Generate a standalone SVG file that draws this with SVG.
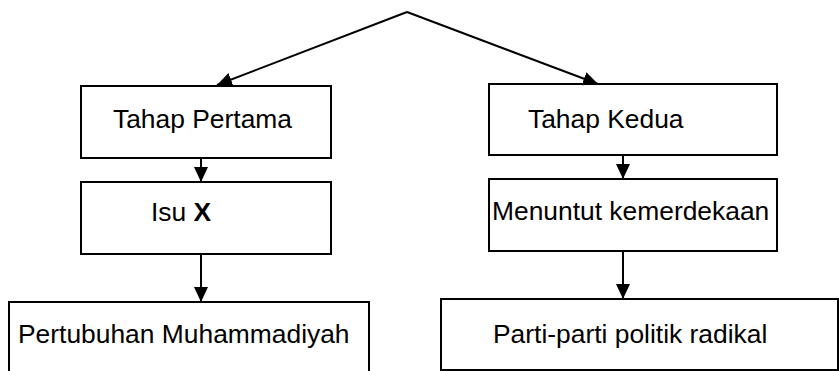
<svg xmlns="http://www.w3.org/2000/svg" width="839" height="371" viewBox="0 0 839 371">
<defs>
<marker id="ah" viewBox="0 0 15 14" refX="15" refY="7" markerWidth="7.5" markerHeight="7" markerUnits="strokeWidth" orient="auto">
<path d="M0,0 L15,7 L0,14 z" fill="#000"/>
</marker>
<style>
.box{fill:#fff;stroke:#000;stroke-width:2}
.lbl{font-family:"Liberation Sans",Arial,sans-serif;font-size:26.4px;fill:#000}
.con{stroke:#000;stroke-width:2;fill:none;marker-end:url(#ah)}
</style>
</defs>
<rect width="839" height="371" fill="#fff"/>
<g id="n1"><rect class="box" x="81" y="86" width="250" height="72"/><text class="lbl" x="113" y="128">Tahap Pertama</text></g>
<g id="n2"><rect class="box" x="81" y="182" width="250" height="72"/><text class="lbl" x="151" y="221">Isu <tspan font-weight="bold">X</tspan></text></g>
<g id="n3"><rect class="box" x="9" y="302" width="360" height="80"/><text class="lbl" x="18" y="343">Pertubuhan Muhammadiyah</text></g>
<g id="n4"><rect class="box" x="489" y="84" width="288" height="71"/><text class="lbl" x="528" y="128">Tahap Kedua</text></g>
<g id="n5"><rect class="box" x="489" y="179" width="288" height="72"/><text class="lbl" x="492" y="220">Menuntut kemerdekaan</text></g>
<g id="n6"><rect class="box" x="441" y="299" width="397" height="71"/><text class="lbl" x="493" y="343">Parti-parti politik radikal</text></g>
<g id="connectors">
<line class="con" x1="407" y1="12" x2="217" y2="85"/>
<line class="con" x1="407" y1="12" x2="598" y2="84"/>
<line class="con" x1="201" y1="158" x2="201" y2="182"/>
<line class="con" x1="201" y1="254" x2="201" y2="302"/>
<line class="con" x1="623" y1="155" x2="623" y2="179"/>
<line class="con" x1="623" y1="251" x2="623" y2="299"/>
</g>
</svg>
